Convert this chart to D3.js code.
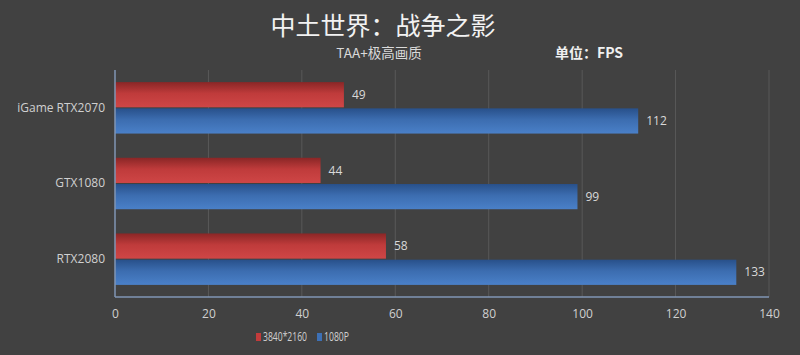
<!DOCTYPE html>
<html><head><meta charset="utf-8">
<script src="https://cdn.jsdelivr.net/npm/d3@7/dist/d3.min.js"></script>
<style>
html,body{margin:0;padding:0;background:#414141;}
svg{display:block;}
</style></head>
<body>
<svg id="c" width="800" height="355"></svg>
<script>
const categories = ["iGame RTX2070", "GTX1080", "RTX2080"];
const seriesNames = ["3840*2160", "1080P"];
const values4k = [49, 44, 58];
const values1080 = [112, 99, 133];
const xTicks = [0, 20, 40, 60, 80, 100, 120, 140];
const title = "中土世界：战争之影";
const subtitle = "TAA+极高画质";
const unitLabel = "单位：FPS";

const svg = d3.select("#c");
const W = 800, H = 355;
const m = {left:115, right:31, top:70, bottom:58};
const iw = W - m.left - m.right, ih = H - m.top - m.bottom;

svg.append("rect").attr("width",W).attr("height",H).attr("fill","#414141");

const defs = svg.append("defs");
const gR = defs.append("linearGradient").attr("id","gr").attr("x1",0).attr("y1",0).attr("x2",0).attr("y2",1);
gR.append("stop").attr("offset","0%").attr("stop-color","#8a2626");
gR.append("stop").attr("offset","45%").attr("stop-color","#bf3b3b");
gR.append("stop").attr("offset","100%").attr("stop-color","#cf4646");
const gB = defs.append("linearGradient").attr("id","gb").attr("x1",0).attr("y1",0).attr("x2",0).attr("y2",1);
gB.append("stop").attr("offset","0%").attr("stop-color","#28508a");
gB.append("stop").attr("offset","45%").attr("stop-color","#3c6db0");
gB.append("stop").attr("offset","100%").attr("stop-color","#4a80c8");
const colors = ["url(#gr)", "url(#gb)"];
const legendColors = ["#c23b3b", "#3d70b5"];

const x = d3.scaleLinear().domain([0,140]).range([0,iw]);
const y = d3.scaleBand().domain(categories).range([0,ih]).paddingInner(0.32).paddingOuter(0.16);
const ys = d3.scaleBand().domain(seriesNames).range([0,y.bandwidth()]).paddingInner(0.04);

const g = svg.append("g").attr("transform",`translate(${m.left},${m.top})`);

// gridlines
g.append("g").selectAll("line").data(xTicks.slice(1)).join("line")
  .attr("x1",d=>x(d)).attr("x2",d=>x(d)).attr("y1",0).attr("y2",ih)
  .attr("stroke","#595959").attr("stroke-width",1);

const data = categories.map((c,i)=>({c, vals:[{s:seriesNames[0],v:values4k[i],f:colors[0]},{s:seriesNames[1],v:values1080[i],f:colors[1]}]}));

const grp = g.selectAll("g.cat").data(data).join("g").attr("class","cat")
  .attr("transform",d=>`translate(0,${y(d.c)})`);
grp.selectAll("rect").data(d=>d.vals).join("rect")
  .attr("x",0).attr("y",d=>ys(d.s)).attr("width",d=>x(d.v)).attr("height",ys.bandwidth())
  .attr("fill",d=>d.f);
grp.selectAll("text").data(d=>d.vals).join("text")
  .attr("x",d=>x(d.v)+8).attr("y",d=>ys(d.s)+ys.bandwidth()/2)
  .attr("dy","0.35em").attr("fill","#d9d9d9")
  .attr("font-family","'Open Sans','Noto Sans',sans-serif").attr("font-size",12)
  .text(d=>d.v);

// axes lines
g.append("line").attr("x1",0).attr("x2",iw).attr("y1",ih).attr("y2",ih).attr("stroke","#8096b4").attr("stroke-width",1.5);
g.append("line").attr("x1",0).attr("x2",0).attr("y1",0).attr("y2",ih).attr("stroke","#8096b4").attr("stroke-width",1.5);

// x tick labels
const xa = g.append("g").attr("transform",`translate(0,${ih})`)
  .call(d3.axisBottom(x).tickValues(xTicks).tickSize(0).tickPadding(12).tickFormat(d3.format("d")));
xa.select(".domain").remove();
xa.selectAll("text").attr("fill","#d0d0d0").attr("font-size",12).attr("font-family","'Open Sans','Noto Sans',sans-serif");

// y labels
const ya = g.append("g").call(d3.axisLeft(y).tickSize(0).tickPadding(10));
ya.select(".domain").remove();
ya.selectAll("text").attr("fill","#d0d0d0").attr("font-size",12).attr("font-family","'Open Sans','Noto Sans',sans-serif");

// titles
svg.append("text").attr("x",383).attr("y",35).attr("text-anchor","middle")
  .attr("fill","#f2f2f2").attr("font-size",25).attr("font-family","'Noto Sans CJK SC',sans-serif")
  .text(title);
svg.append("text").attr("x",379).attr("y",58).attr("text-anchor","middle")
  .attr("fill","#d9d9d9").attr("font-size",13.5).attr("font-family","'Noto Sans CJK SC',sans-serif")
  .text(subtitle);
svg.append("text").attr("x",555).attr("y",58).attr("text-anchor","start")
  .attr("fill","#f0f0f0").attr("font-size",14).attr("font-weight","bold").attr("font-family","'Noto Sans CJK SC',sans-serif")
  .text(unitLabel);

// legend
const legendX = [256, 317];
const legendW = [44, 25];
const lg = svg.append("g").attr("transform","translate(0,337)");
const items = lg.selectAll("g").data(seriesNames).join("g")
  .attr("transform",(d,i)=>`translate(${legendX[i]},0)`);
items.append("rect").attr("x",0).attr("y",-4).attr("width",5).attr("height",8)
  .attr("fill",(d,i)=>legendColors[i]);
items.append("text").attr("x",7).attr("y",0).attr("dy","0.35em")
  .attr("fill","#d0d0d0").attr("font-size",12.5).attr("font-family","'Open Sans','Noto Sans',sans-serif")
  .attr("textLength",(d,i)=>legendW[i]).attr("lengthAdjust","spacingAndGlyphs")
  .text(d=>d);
</script>
</body></html>
